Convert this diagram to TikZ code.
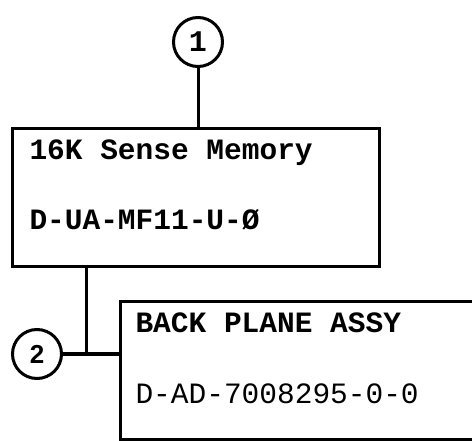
\documentclass[tikz,border=0pt]{standalone}
\usepackage{fontspec}
\setmonofont{Liberation Mono}
\newfontfamily\numsans{Liberation Sans}
\begin{document}
\begin{tikzpicture}[x=1pt,y=-1pt,
  line width=3pt,
  boxtext/.style={anchor=base west,inner sep=0pt,font=\fontsize{29.5}{30}\selectfont\ttfamily\bfseries},
  boxtextlight/.style={anchor=base west,inner sep=0pt,font=\fontsize{29.5}{30}\selectfont\ttfamily},
  callout/.style={circle,draw,minimum size=49pt,inner sep=0pt}]
\useasboundingbox (0,0) rectangle (472,441);
\begin{scope}
\clip (0,0) rectangle (472,441);
% boxes
\node[draw,rectangle,minimum width=367pt,minimum height=138pt,anchor=north west,inner sep=0pt] (mem) at (11,127) {};
\node[draw,rectangle,minimum width=370pt,minimum height=138pt,anchor=north west,inner sep=0pt] (bp) at (119,300) {};
\end{scope}
% texts
\node[boxtext] (t1) at (28,160) {16K Sense Memory};
\node[boxtext] (t2) at (28,230) {D-UA-MF11-U-Ø};
\node[boxtext] (t3) at (134,333) {BACK PLANE ASSY};
\node[boxtextlight] (t4) at (134,403) {D-AD-7008295-0-0};
% callouts
\node[callout,font=\fontsize{30}{30}\selectfont\ttfamily\bfseries] (c1) at (198,42) {1};
\node[callout,font=\fontsize{26}{26}\selectfont\numsans\bfseries] (c2) at (37,354) {2};
% connectors
\coordinate (j1) at (mem.north -| c1.south);
\draw (c1.south) -- (j1);
\coordinate (j2) at (86,265);
\coordinate (j3) at (86,354);
\draw (j2) -- (j3);
\draw (c2.east) -- (c2.east -| bp.west);
\end{tikzpicture}
\end{document}
